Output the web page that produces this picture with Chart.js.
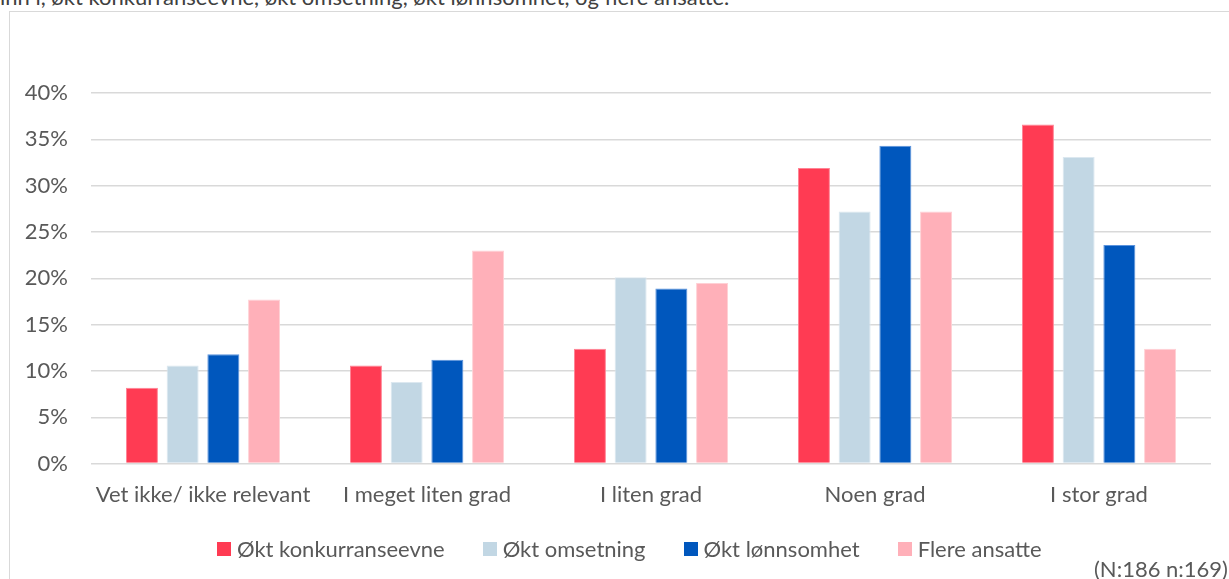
<!DOCTYPE html>
<html>
<head>
<meta charset="utf-8">
<script src="https://cdn.jsdelivr.net/npm/chart.js@4"></script>
<style>
  html, body { margin: 0; padding: 0; background: #fff; overflow: hidden; }
  body { width: 1229px; height: 579px; position: relative; font-family: Lato, sans-serif; color: #595959; }
  #frame { position: absolute; left: 9px; top: 11px; width: 1240px; height: 600px; border: 1px solid #d9d9d9; box-sizing: border-box; }
  #topline { position: absolute; left: 0; top: -16px; font-size: 22px; line-height: 26px; color: #404040; white-space: nowrap; }
  #wrap { position: absolute; left: 0; top: 0; width: 1229px; height: 579px; }
  #legend { position: absolute; left: 217px; top: 536px; display: flex; align-items: center; font-size: 22px; line-height: 26px; }
  .item { display: flex; align-items: center; margin-right: 38px; }
  .box { width: 14px; height: 14px; margin-right: 6px; }
  #nlabel { position: absolute; right: 1px; top: 556px; font-size: 22px; line-height: 26px; }
</style>
</head>
<body>
<div id="topline">inn i, økt konkurranseevne, økt omsetning, økt lønnsomhet, og flere ansatte.</div>
<div id="frame"></div>
<div id="wrap"><canvas id="chart" width="1229" height="579"></canvas></div>
<div id="legend"></div>
<div id="nlabel">(N:186 n:169)</div>
<script>
const categories = ['Vet ikke/ ikke relevant', 'I meget liten grad', 'I liten grad', 'Noen grad', 'I stor grad'];
const seriesNames = ['Økt konkurranseevne', 'Økt omsetning', 'Økt lønnsomhet', 'Flere ansatte'];
const konkurranseevne = [8.2, 10.6, 12.4, 31.9, 36.6];
const omsetning = [10.6, 8.8, 20.1, 27.2, 33.1];
const lonnsomhet = [11.8, 11.2, 18.9, 34.3, 23.6];
const flereAnsatte = [17.7, 23.0, 19.5, 27.2, 12.4];
const yTicks = [0, 5, 10, 15, 20, 25, 30, 35, 40];

const colors = ['#FF3B53', '#C2D7E4', '#0057BD', '#FFB0B9'];
const borders = ['#ff8394', '#dce8f0', '#5b93dd', '#ffd0d5'];
const values = [konkurranseevne, omsetning, lonnsomhet, flereAnsatte];

const tickFont = { family: 'Lato, sans-serif', size: 22 };

const chart = new Chart(document.getElementById('chart'), {
    type: 'bar',
    data: {
        labels: categories,
        datasets: seriesNames.map((name, i) => ({
            label: name,
            data: values[i],
            backgroundColor: colors[i],
            borderColor: borders[i],
            borderWidth: 1,
            barPercentage: 0.786,
            categoryPercentage: 0.727
        }))
    },
    options: {
        responsive: false,
        animation: false,
        layout: { padding: { left: 0, right: 18, top: 93, bottom: 61 } },
        plugins: {
            legend: { display: false },
            tooltip: { enabled: false }
        },
        scales: {
            x: {
                grid: { display: false },
                border: { display: false },
                ticks: { color: '#595959', font: tickFont, padding: 10, maxRotation: 0, autoSkip: false }
            },
            y: {
                min: 0,
                max: 40,
                afterBuildTicks: s => { s.ticks = yTicks.map(v => ({ value: v })); },
                grid: { color: '#d9d9d9', lineWidth: 1.5, drawTicks: false },
                border: { display: false },
                ticks: { color: '#595959', font: tickFont, padding: 23, callback: v => v + '%' },
                afterFit: s => { s.width = 91; }
            }
        }
    }
});

// HTML legend built from the series
const legend = document.getElementById('legend');
seriesNames.forEach((name, i) => {
    const item = document.createElement('div');
    item.className = 'item';
    item.innerHTML = `<span class="box" style="background:${colors[i]}"></span><span>${name}</span>`;
    legend.appendChild(item);
});
</script>
</body>
</html>
